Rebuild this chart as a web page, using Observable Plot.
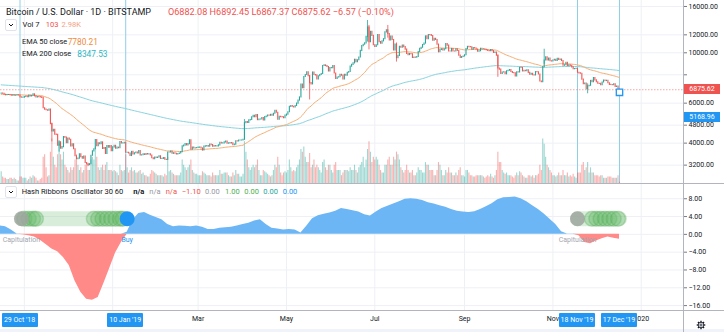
<!DOCTYPE html>
<html>
<head>
<meta charset="utf-8">
<script src="https://cdn.jsdelivr.net/npm/d3@7"></script>
<script src="https://cdn.jsdelivr.net/npm/@observablehq/plot@0.6"></script>
<style>
html,body{margin:0;padding:0;background:#fff;}
#wrap{position:relative;width:724px;height:332px;overflow:hidden;background:#fff;font-family:Roboto,"Open Sans",sans-serif;color:#131722;}
.t{position:absolute;white-space:nowrap;line-height:12px;height:12px;}
.chev{position:absolute;width:12px;height:12px;border:1px solid #e0e3eb;border-radius:2px;background:#fff;box-sizing:border-box;}
.hl{position:absolute;height:14px;line-height:14px;color:#fff;background:#2196f3;font-size:7px;text-align:center;border-radius:1px;}
.pl{position:absolute;left:684px;width:36px;height:10px;line-height:10px;color:#fff;font-size:7px;text-align:center;}
.sep{position:absolute;background:#d1d4dc;}
</style>
</head>
<body>
<div id="wrap"></div>
<script>
// ---------------- data ----------------
const candleStart = "2018-10-16";
const firstOpen = 6600;
const closesOct18 = [6620,6600,6530,6500,6520,6520,6500,6480,6500,6480,6490,6500,6490,6360,6350,6350];
const closesNov18 = [6390,6420,6380,6480,6420,6470,6560,6430,6360,6390,6380,6360,6330,5700,5620,5580,5560,5620,4850,4500,4580,4360,4350,3900,4030,3780,3840,4250,4230,4000];
const closesDec18 = [4190,4140,3870,3950,3760,3500,3400,3420,3570,3470,3420,3490,3270,3220,3200,3230,3520,3680,3760,4130,3880,3990,3960,4030,3770,3810,3580,3880,3820,3880,3690];
const closesJan19 = [3830,3890,3780,3820,3800,4040,3990,3990,4010,3630,3630,3600,3510,3660,3570,3610,3640,3600,3690,3530,3540,3570,3550,3580,3570,3570,3530,3430,3400,3460,3440];
const closesFeb19 = [3460,3500,3410,3410,3440,3380,3370,3640,3640,3670,3590,3610,3590,3570,3580,3600,3650,3870,3900,3960,3910,3960,4120,3740,3820,3790,3800,3810];
const closesMar19 = [3820,3820,3790,3710,3860,3870,3880,3860,3940,3920,3860,3880,3870,3870,3910,4010,3990,3990,4030,4060,3980,3990,4000,3990,3920,3940,4080,4070,4110,4110,4110];
const closesApr19 = [4140,4900,4960,4910,5040,5060,5200,5280,5200,5320,5050,5080,5080,5160,5040,5210,5240,5290,5280,5330,5290,5390,5550,5440,5070,5230,5210,5200,5150,5290];
const closesMay19 = [5340,5470,5780,5830,5790,5750,5830,5970,6160,6360,7250,6990,7820,7990,8200,7880,7350,7260,8190,7980,7950,7630,7880,7990,8060,8750,8800,8740,8660,8280,8560];
const closesJun19 = [8560,8740,8110,7670,7790,7800,8000,7930,7630,8010,7920,8170,8230,8690,8850,8980,9320,9080,9270,9530,10200,10700,10850,11000,11750,12930,11150,12370,11880,10800];
const closesJul19 = [10600,10800,11980,11150,10980,11230,11480,12300,12580,12100,11350,11800,11390,10250,10880,9470,9690,10640,10530,10760,10590,10330,9890,9770,9880,9850,9480,9530,9510,9590,10090];
const closesAug19 = [10410,10520,10830,10980,11810,11470,11980,11960,11860,11300,11530,11380,10870,10050,10300,10350,10230,10360,10920,10760,10140,10130,10400,10140,10130,10370,10190,9720,9490,9590,9630];
const closesSep19 = [9760,10380,10620,10590,10580,10320,10500,10450,10340,10120,10160,10420,10360,10360,10310,10260,10190,10160,10280,10170,9990,10030,9700,8530,8430,8060,8190,8210,8040,8290];
const closesOct19 = [8340,8390,8230,8150,8130,7870,8210,8190,8590,8580,8280,8330,8300,8370,8160,8000,8080,7960,7950,8220,8210,8030,7470,7420,8650,9250,9550,9250,9430,9180,9150];
const closesNov19 = [9250,9310,9200,9400,9310,9340,9200,8770,8810,9030,8720,8810,8760,8630,8460,8490,8500,8170,8120,8080,7620,7280,7320,6910,7120,7160,7520,7430,7740,7560];
const closesDec19 = [7420,7310,7300,7200,7400,7540,7510,7530,7340,7220,7210,7200,7260,7080,7110,6882.08,6875.62];

// daily volume, thousands of BTC
const volOct18 = [9,5,4,4,3,3,4,4,3,4,3,2,2,5,5,4];
const volNov18 = [4,4,2,3,5,4,6,5,4,2,2,3,4,20,22,12,5,6,24,34,20,14,12,22,30,22,18,24,14,12];
const volDec18 = [10,8,12,10,12,18,22,14,10,12,8,10,14,14,10,10,18,20,18,28,20,12,10,12,14,10,14,16,10,10,10];
const volJan19 = [9,10,9,8,6,14,10,9,10,22,12,8,10,12,9,10,8,8,9,10,7,8,6,6,5,5,7,10,9,8,7];
const volFeb19 = [6,6,6,6,5,7,6,20,9,10,8,7,6,6,6,6,8,18,14,12,10,12,14,18,10,8,7,7];
const volMar19 = [6,6,6,9,8,7,6,6,6,5,8,6,6,6,6,10,7,7,8,8,8,6,5,5,8,6,10,7,7,5,5];
const volApr19 = [7,32,24,18,12,10,12,14,12,14,18,10,6,6,10,9,8,7,6,5,6,10,14,12,20,14,8,6,8,9];
const volMay19 = [8,10,18,12,9,10,9,12,14,18,26,24,28,20,16,16,23,12,14,18,12,14,12,10,8,16,18,12,10,14,14];
const volJun19 = [10,8,14,16,10,10,10,6,8,10,10,10,9,12,10,10,14,10,8,12,14,16,20,12,18,26,32,24,16,20];
const volJul19 = [18,20,18,14,10,8,8,14,14,18,20,14,14,20,18,24,22,18,12,10,8,10,14,10,8,8,10,6,6,8,12];
const volAug19 = [10,10,8,8,16,14,14,10,10,10,6,6,10,16,14,10,6,6,10,8,12,8,8,6,6,8,6,10,12,6,6];
const volSep19 = [5,10,10,8,6,6,5,5,6,6,6,6,6,5,4,5,6,5,7,5,4,6,10,24,16,16,10,8,7,8];
const volOct19 = [6,6,6,5,4,6,8,6,9,8,6,5,4,4,6,6,5,6,4,6,6,7,14,10,34,30,20,14,12,10,8];
const volNov19 = [6,6,5,6,8,6,6,10,6,6,8,5,6,5,7,5,4,8,8,8,14,16,10,12,16,8,12,8,8,6];
const volDec19 = [6,6,5,6,6,4,4,4,5,5,5,4,4,4,4,6,1];

// notable wicks
const wickDates = ["2018-11-20","2018-11-25","2018-12-15","2019-04-02","2019-05-17","2019-06-26","2019-06-27","2019-07-10","2019-07-16","2019-09-24","2019-10-26","2019-11-25"];
const wickHighs = [4900,4100,3260,5080,7950,13880,13200,13200,11050,9800,10370,7300];
const wickLows  = [4050,3650,3150,4130,6200,11150,10300,11600,9100,7800,8900,6600];

// EMA starting levels read at the left edge
const ema50Seed = 6560;
const ema200Seed = 7230;

// Hash Ribbons oscillator, every 4 days from start
const oscStart = "2018-10-15";
const oscStepDays = 4;
const oscValues = [1.9,1.7,1.0,0.1,-0.1,-0.3,-0.6,-1.3,-2.3,-3.3,-3.9,-5.2,-7.0,-10.5,-13.0,-14.6,-14.8,-14.2,-11.0,-7.6,-4.2,-1.8,0.5,3.2,4.7,4.9,4.3,3.8,3.3,2.2,1.7,1.9,1.8,1.7,1.9,1.6,1.1,1.1,1.35,1.5,1.6,1.9,2.2,2.5,3.0,3.3,2.2,1.4,1.2,1.0,1.1,1.0,0.3,1.8,3.5,4.2,4.5,4.8,5.2,5.8,5.6,5.3,5.0,4.4,4.1,5.0,5.8,6.3,6.8,7.3,7.9,8.0,7.9,7.6,7.1,6.8,6.4,6.1,5.6,5.2,5.0,4.9,5.1,5.6,6.2,6.9,7.8,8.2,8.3,8.4,8.0,7.3,6.4,5.6,4.6,3.4,2.2,0.6,0.1,0.1,-0.3,-1.8,-2.1,-1.5,-1.0,-0.6,-0.9,-1.1];

// signal markers
const markerLevel = 3.5;
const capitulationDates = ["2018-10-30","2019-11-18"];
const buyDates = ["2019-01-11"];
const ribbonStarts = ["2018-10-31","2019-11-18"];
const ribbonEnds = ["2019-01-09","2019-12-17"];
const greenDotDates = ["2018-11-01","2018-11-04","2018-11-07","2018-11-09","2018-12-19","2018-12-22","2018-12-25","2018-12-28","2018-12-31","2019-01-03","2019-01-06","2019-01-08","2019-11-28","2019-12-01","2019-12-04","2019-12-07","2019-12-10","2019-12-13","2019-12-16"];

// vertical signal lines and highlighted dates
const signalDates = ["2018-10-29","2019-01-10","2019-11-18","2019-12-17"];
const signalLabels = ["29 Oct '18","10 Jan '19","18 Nov '19","17 Dec '19"];

// axes
const priceTicks = [3200,4000,4800,6000,8000,10000,12000,16000];
const oscTicks = [8,4,0,-4,-8,-12,-16];
const gridMonths = ["2018-11-01","2019-01-01","2019-03-01","2019-05-01","2019-07-01","2019-09-01","2019-11-01","2020-01-01"];
const monthLabelDates = ["2019-03-01","2019-05-01","2019-07-01","2019-09-01","2019-11-01","2020-01-01"];
const monthLabels = ["Mar","May","Jul","Sep","Nov","2020"];
const lastClose = 6875.62;
const hiddenLevel = 5168.96;
const squareMarker = {date: "2019-12-17", price: 6700};

// ---------------- build ----------------
const P = d3.utcParse("%Y-%m-%d");
const closes = [closesOct18,closesNov18,closesDec18,closesJan19,closesFeb19,closesMar19,closesApr19,closesMay19,closesJun19,closesJul19,closesAug19,closesSep19,closesOct19,closesNov19,closesDec19].flat();
const volumes = [volOct18,volNov18,volDec18,volJan19,volFeb19,volMar19,volApr19,volMay19,volJun19,volJul19,volAug19,volSep19,volOct19,volNov19,volDec19].flat();
const up = "#26a69a", down = "#ef5350";
function ema(vals, n, seed){ const a = 2/(n+1); let e = seed; return vals.map(v => (e = e + a*(v - e))); }
const e50 = ema(closes, 50, ema50Seed), e200 = ema(closes, 200, ema200Seed);
const t0 = P(candleStart);
const candles = closes.map((c,i) => {
  const open = i ? closes[i-1] : firstOpen;
  return {date: d3.utcDay.offset(t0, i), open, close: c, vol: volumes[i], e50: e50[i], e200: e200[i], color: c >= open ? up : down};
});
const cIndex = new Map(candles.map(d => [+d.date, d]));
const wicks = wickDates.map((s,i) => { const d = P(s); const c = cIndex.get(+d); return {date: d, high: wickHighs[i], low: wickLows[i], color: c ? c.color : down}; });
const osc = oscValues.map((v,i) => ({date: d3.utcDay.offset(P(oscStart), i*oscStepDays), v}));

const day = 864e5;
const anchor = +P("2018-10-29");
const xDomain = [new Date(anchor - 13.47*day), new Date(anchor + 458.2*day)];
const W = 724, MR = 41;
const font = "Roboto, 'Open Sans', sans-serif";
const gridColor = "#eef0f5";
const signalColor = "#8fcfe6";
const priceDomain = [2656, 17000];

const wrap = document.getElementById("wrap");
function place(el, top){ el.style.position = "absolute"; el.style.left = "0px"; el.style.top = top + "px"; wrap.appendChild(el); return el; }

const priceBase = {width: W, height: 183, marginTop: 0, marginBottom: 0, marginLeft: 0, marginRight: MR,
  x: {type: "utc", domain: xDomain, axis: null},
  y: {type: "log", domain: priceDomain, axis: null},
  style: {background: "transparent", fontFamily: font, overflow: "visible"}};

// bottom toolbar strip
const strip = document.createElement("div"); Object.assign(strip.style,{position:"absolute",left:"0px",top:"329px",width:"724px",height:"3px",background:"#f0f3fa"}); wrap.appendChild(strip);

// layer 1: grid + signal lines
place(Plot.plot({...priceBase, marks: [
  Plot.gridY(priceTicks, {stroke: gridColor, strokeOpacity: 1}),
  Plot.gridX(gridMonths.map(P), {stroke: gridColor, strokeOpacity: 1}),
  Plot.ruleX(signalDates.map(P), {x: d => d, stroke: signalColor, strokeWidth: 1, strokeOpacity: 1})
]}), 0);

// layer 2: volume
place(Plot.plot({width: W, height: 183, marginTop: 0, marginBottom: 0, marginLeft: 0, marginRight: MR,
  x: {type: "utc", domain: xDomain, axis: null},
  y: {domain: [0, 140], axis: null},
  style: {background: "transparent", overflow: "visible"},
  marks: [Plot.ruleX(candles, {x: "date", y1: 0, y2: "vol", stroke: "color", strokeOpacity: 0.45, strokeWidth: 1.1})]
}), 0);

// layer 3: price
const pricePlot = place(Plot.plot({...priceBase, marks: [
  Plot.ruleY([lastClose], {stroke: down, strokeOpacity: 0.5, strokeDasharray: "1.5,1.5"}),
  Plot.line(candles, {x: "date", y: "e200", stroke: "#86d2de", strokeWidth: 1}),
  Plot.line(candles, {x: "date", y: "e50", stroke: "#f6ad74", strokeWidth: 1}),
  Plot.ruleX(wicks, {x: "date", y1: "low", y2: "high", stroke: "color", strokeWidth: 0.8}),
  Plot.ruleX(candles, {x: "date", y1: "open", y2: "close", stroke: "color", strokeWidth: 1.1, strokeLinecap: "square"}),
  Plot.dot([squareMarker], {x: d => P(d.date), y: "price", symbol: "square", r: 3.6, fill: "#fff", stroke: "#2196f3", strokeWidth: 1.3}),
  Plot.axisY(priceTicks, {anchor: "right", tickSize: 3, tickPadding: 2, tickFormat: d => d.toFixed(2), fontSize: 7, stroke: "#787b86", fill: "#131722"})
]}), 0);

// oscillator panel
const oscPlot = place(Plot.plot({width: W, height: 148, marginTop: 0, marginBottom: 22, marginLeft: 0, marginRight: MR,
  x: {type: "utc", domain: xDomain, axis: null},
  y: {domain: [-17.1, 11.2], axis: null},
  style: {background: "transparent", fontFamily: font, overflow: "visible"},
  marks: [
    Plot.gridY(oscTicks, {stroke: gridColor, strokeOpacity: 1}),
    Plot.gridX(gridMonths.map(P), {stroke: gridColor, strokeOpacity: 1}),
    Plot.areaY(osc, {x: "date", y: d => Math.max(d.v, 0), fill: "#6cb6f5"}),
    Plot.areaY(osc, {x: "date", y: d => Math.min(d.v, 0), fill: "#ff8a88"}),
    Plot.link(ribbonStarts.map((s,i) => ({a: P(s), b: P(ribbonEnds[i])})), {x1: "a", x2: "b", y1: () => markerLevel, y2: () => markerLevel, stroke: "#81c784", strokeOpacity: 0.3, strokeWidth: 15, strokeLinecap: "round"}),
    Plot.dot(greenDotDates.map(P), {x: d => d, y: () => markerLevel, r: 7.5, fill: "#66bb6a", fillOpacity: 0.35, stroke: "#43a047", strokeOpacity: 0.25}),
    Plot.dot(capitulationDates.map(P), {x: d => d, y: () => markerLevel, r: 7.5, fill: "#9ea59e", fillOpacity: 0.85}),
    Plot.dot(buyDates.map(P), {x: d => d, y: () => markerLevel, r: 7.5, fill: "#2196f3"}),
    Plot.text(capitulationDates.map(P), {x: d => d, y: () => 0, dy: 5, text: () => "Capitulation", fill: "#a3a6af", fontSize: 7}),
    Plot.text(buyDates.map(P), {x: d => d, y: () => 0, dy: 5, text: () => "Buy", fill: "#2196f3", fontSize: 7}),
    Plot.axisY(oscTicks, {anchor: "right", tickSize: 3, tickPadding: 2, tickFormat: d => (d < 0 ? "\u2212" + Math.abs(d).toFixed(2) : d.toFixed(2)), fontSize: 7, stroke: "#787b86", fill: "#131722"}),
    Plot.text(monthLabelDates.map(P), {x: d => d, text: (d,i) => monthLabels[i], frameAnchor: "bottom", dy: 10, fontSize: 7, fill: "#131722"})
  ]
}), 184);

// separators
function line(l,t,w,h,c){ const d = document.createElement("div"); d.className = "sep"; Object.assign(d.style,{left:l+"px",top:t+"px",width:w+"px",height:h+"px"}); if(c) d.style.background=c; wrap.appendChild(d); }
line(0,183,724,1,"#b2b5be");
line(0,310,724,1,"#b2b5be");
line(683,0,1,332,"#b2b5be");

// highlighted date labels
const xs = oscPlot.scale("x");
signalDates.forEach((s,i) => {
  const d = document.createElement("div"); d.className = "hl"; d.textContent = signalLabels[i];
  const cx = xs.apply(P(s)); Object.assign(d.style, {left: (cx - 18) + "px", top: "313px", width: "36px"}); wrap.appendChild(d);
});
// price labels on the axis
const ys = pricePlot.scale("y");
[[lastClose, "#ef5350"], [hiddenLevel, "#2196f3"]].forEach(([v,c]) => {
  const d = document.createElement("div"); d.className = "pl"; d.textContent = v.toFixed(2);
  Object.assign(d.style, {top: (ys.apply(v) - 5) + "px", background: c}); wrap.appendChild(d);
});

// legends
function txt(s, left, cy, size, color, weight){ const d = document.createElement("div"); d.className = "t"; d.textContent = s;
  Object.assign(d.style, {left: left+"px", top: (cy-6)+"px", fontSize: size+"px", color: color || "#131722", fontWeight: weight || 400}); wrap.appendChild(d); }
function chev(left, top){ const d = document.createElement("div"); d.className = "chev"; Object.assign(d.style,{left:left+"px",top:top+"px"});
  d.innerHTML = '<svg width="10" height="10" style="position:absolute;left:0;top:0"><polyline points="3,4 5,6 7,4" fill="none" stroke="#131722" stroke-width="1"/></svg>'; wrap.appendChild(d); }
txt("Bitcoin / U.S. Dollar \u00b7 1D \u00b7 BITSTAMP", 6, 11.7, 9, "#131722");
txt("O6882.08 H6892.45 L6867.37 C6875.62 \u22126.57 (\u22120.10%)", 168, 11.7, 9.1, "#ef5350");
chev(5, 19);
txt("Vol 7", 22.5, 25, 7.6); txt("103", 45.7, 25, 7.6, "#ef5350"); txt("2.98K", 61.5, 25, 7.6, "#f4a27f");
txt("EMA 50 close", 22, 41.7, 7.4); txt("7780.21", 67.7, 41.7, 8.3, "#f08a3c");
txt("EMA 200 close", 22, 54.3, 7.4); txt("8347.53", 77.3, 54.3, 8.3, "#2bb5c5");
chev(5, 186);
txt("Hash Ribbons", 21.7, 192.3, 7.5); txt("Oscillator 30 60", 71, 192.3, 7.5);
txt("n/a", 133.3, 192.3, 7.5, "#131722", 700); txt("n/a", 149.3, 192.3, 7.5, "#9598a1"); txt("n/a", 165.7, 192.3, 7.5, "#ef5350");
txt("\u22121.10", 181.7, 192.3, 7.5, "#ef5350"); txt("0.00", 205, 192.3, 7.5, "#9598a1"); txt("1.00", 225, 192.3, 7.5, "#4caf50");
txt("0.00", 244.3, 192.3, 7.5, "#4caf50"); txt("0.00", 263.3, 192.3, 7.5, "#26a69a"); txt("0.00", 282.7, 192.3, 7.5, "#2196f3");

// gear icon
const g = document.createElement("div"); Object.assign(g.style,{position:"absolute",left:"696px",top:"315px",width:"10px",height:"10px"});
g.innerHTML = '<svg width="10" height="10" viewBox="-5 -5 10 10"><circle r="2.8" fill="none" stroke="#131722" stroke-width="0.9"/><circle r="1.1" fill="none" stroke="#131722" stroke-width="0.8"/>' +
  [0,45,90,135,180,225,270,315].map(a => '<line x1="0" y1="-2.8" x2="0" y2="-4.3" stroke="#131722" stroke-width="1.3" transform="rotate('+a+')"/>').join("") + '</svg>';
wrap.appendChild(g);
</script>
</body>
</html>
